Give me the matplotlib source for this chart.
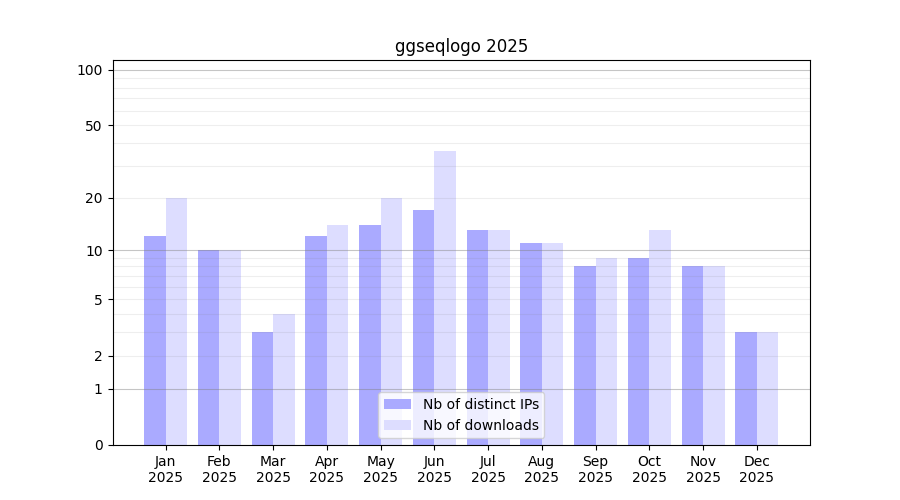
import numpy as np
import matplotlib
matplotlib.use("Agg")
import matplotlib.pyplot as plt

# données ggseqlogo 2025
months = ["Jan", "Feb", "Mar", "Apr", "May", "Jun",
          "Jul", "Aug", "Sep", "Oct", "Nov", "Dec"]
year = "2025"
ips = [12, 10, 3, 12, 14, 17, 13, 11, 8, 9, 8, 3]
downloads = [20, 10, 4, 14, 20, 36, 13, 11, 9, 13, 8, 3]
yticks = [0, 1, 2, 5, 10, 20, 50, 100]


def fwd(v):
    return np.log10(1 + np.maximum(v, 0))


def inv(v):
    return 10 ** v - 1


fig, ax = plt.subplots(figsize=(9, 5), dpi=100)
ax.set_yscale("function", functions=(fwd, inv))

x = np.arange(len(months))
w = 0.4
ax.bar(x - w / 2, ips, w, color="#aaaaff", label="Nb of distinct IPs", zorder=1)
ax.bar(x + w / 2, downloads, w, color="#ddddff", label="Nb of downloads", zorder=1)

ax.set_ylim(0, 113)
ax.set_yticks(yticks)
ax.set_yticklabels([str(t) for t in yticks])
ax.minorticks_off()

# grille
for dec in [1, 10]:
    for k in range(2, 10):
        ax.axhline(dec * k, color="gray", alpha=0.13, lw=0.8, zorder=2)
for v in [1, 10, 100]:
    ax.axhline(v, color="gray", alpha=0.45, lw=0.8, zorder=2)

ax.set_xticks(x)
ax.set_xticklabels([m + "\n" + year for m in months])
ax.set_title("ggseqlogo 2025")
ax.legend(loc="lower center")

fig.savefig("out.png")
